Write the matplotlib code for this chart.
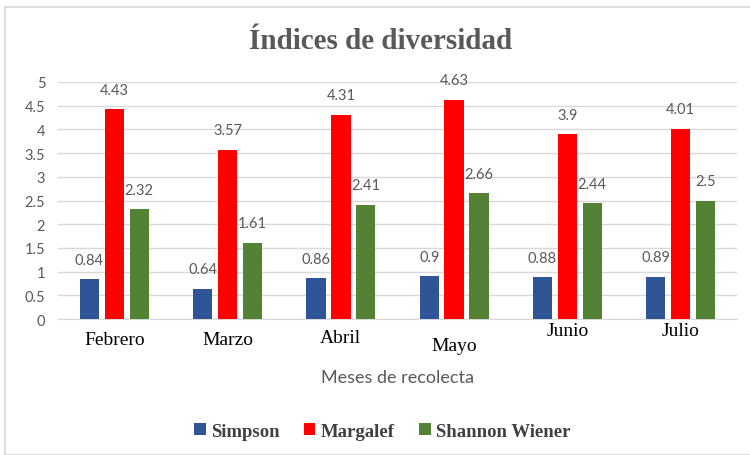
import numpy as np
import matplotlib.pyplot as plt
from matplotlib.patches import Rectangle

# data
meses = ['Febrero', 'Marzo', 'Abril', 'Mayo', 'Junio', 'Julio']
simpson = [0.84, 0.64, 0.86, 0.9, 0.88, 0.89]
margalef = [4.43, 3.57, 4.31, 4.63, 3.9, 4.01]
shannon = [2.32, 1.61, 2.41, 2.66, 2.44, 2.5]
series_names = ['Simpson', 'Margalef', 'Shannon Wiener']

colors = ['#2F5597', '#FF0000', '#548235']
gray = '#595959'
serif = 'Liberation Serif'
sans = 'Lato'

fig = plt.figure(figsize=(7.5, 4.56), dpi=100)
fig.patches.append(Rectangle((0.007, 0.0), 1.2, 0.982, transform=fig.transFigure,
                             fill=False, edgecolor='#d9d9d9', linewidth=1.2))
ax = fig.add_axes([0.077, 0.298, 0.906, 0.52])

x = np.arange(len(meses))
width = 0.17
step = 0.22
for i, (vals, name) in enumerate(zip([simpson, margalef, shannon], series_names)):
    pos = x + (i - 1) * step
    ax.bar(pos, vals, width, color=colors[i], label=name, zorder=3)
    for px, v in zip(pos, vals):
        ax.annotate(f'{v:g}', (px, v), xytext=(0, 14), textcoords='offset points',
                    ha='center', va='center', fontsize=10.5, color=gray,
                    family=sans, zorder=4)

ax.set_xlim(-0.5, len(meses) - 0.5)
ax.set_ylim(0, 5)
ax.set_yticks(np.arange(0, 5.01, 0.5))
ax.set_yticklabels([f'{t:g}' for t in np.arange(0, 5.01, 0.5)],
                   family=sans, fontsize=10.5, color=gray)
ax.yaxis.grid(True, color='#d9d9d9', linewidth=1, zorder=0)
ax.tick_params(length=0, pad=9)
for s in ['top', 'right', 'left']:
    ax.spines[s].set_visible(False)
ax.spines['bottom'].set_color('#d9d9d9')

# month labels sit at slightly different heights in the original
ax.set_xticks(x)
ax.set_xticklabels([])
label_dy = [-15, -15, -13, -19, -8, -8]
trans = ax.get_xaxis_transform()
for xi, m, dy in zip(x, meses, label_dy):
    ax.annotate(m, (xi, 0), xycoords=trans, xytext=(0, dy), textcoords='offset points',
                ha='center', va='center', fontsize=14, family=serif, color='black')

ax.text(0.5, -0.245, 'Meses de recolecta', transform=ax.transAxes, ha='center',
        va='center', fontsize=13, family=sans, color=gray)

fig.text(0.508, 0.908, 'Índices de diversidad', ha='center', va='center',
         fontsize=21, fontweight='bold', family=serif, color=gray)

leg = fig.legend(loc='center', bbox_to_anchor=(0.51, 0.052), ncol=3, frameon=False,
                 prop={'family': serif, 'weight': 'bold', 'size': 13.5},
                 handlelength=0.6, handleheight=0.6, handletextpad=0.3,
                 columnspacing=1.3)
for t in leg.get_texts():
    t.set_color('#404040')

fig.savefig('out.png', dpi=100)
